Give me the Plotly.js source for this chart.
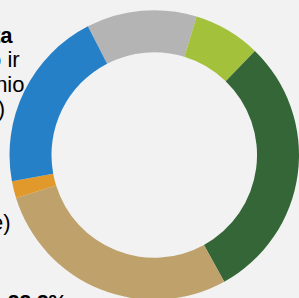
<!DOCTYPE html>
<html>
<head>
<meta charset="utf-8">
<script src="https://cdn.plot.ly/plotly-3.0.1.min.js"></script>
<style>html,body{margin:0;padding:0;background:#f2f2f2;overflow:hidden;}</style>
</head>
<body>
<div id="chart" style="width:299px;height:300px;"></div>
<script>
const categories = ["Pilka", "Šviesiai žalia", "Tamsiai žalia", "Smėlio", "Oranžinė", "Mėlyna"];
const values = [12.3, 7.5, 29.7, 28.2, 1.9, 20.3];
const colors = ["#b4b4b4", "#a3c13b", "#356638", "#bfa16b", "#e0992a", "#2680c8"];
const labelLines = ["<b>Kita</b>", "Švietimo ir", "socialinio", "(paslaugos)", "(pramonė)", "<b>Iš viso 1,22.3%</b>"];

const W = 299, H = 300;
const px = v => v / W;
const py = v => 1 - v / H;

const data = [{
  type: "pie",
  labels: categories,
  values: values,
  sort: false,
  direction: "clockwise",
  rotation: -27.3,
  hole: 0.71,
  textinfo: "none",
  hoverinfo: "none",
  marker: {colors: colors, line: {width: 0}},
  domain: {x: [0.0318, 1], y: [0, 0.9667]},
  showlegend: false
}];

const fnt = {family: "Liberation Sans, Arial, sans-serif", size: 22, color: "#000"};
const ann = (text, xr, yt) => ({
  text: text, xref: "paper", yref: "paper", x: px(xr), y: py(yt),
  xanchor: "right", yanchor: "top", showarrow: false, font: fnt, borderpad: 0
});

const layout = {
  width: W, height: H,
  margin: {l: 0, r: 0, t: 0, b: 0},
  paper_bgcolor: "#f2f2f2",
  plot_bgcolor: "#f2f2f2",
  annotations: [
    ann(labelLines[0], 14, 22),
    ann(labelLines[1], 21, 46),
    ann(labelLines[2], 26, 71),
    ann(labelLines[3], 6, 95),
    ann(labelLines[4], 11, 209),
    Object.assign(ann(labelLines[5], 69, 289), {font: Object.assign({}, fnt, {size: 21})})
  ]
};

Plotly.newPlot("chart", data, layout, {staticPlot: true, displayModeBar: false});
</script>
</body>
</html>
